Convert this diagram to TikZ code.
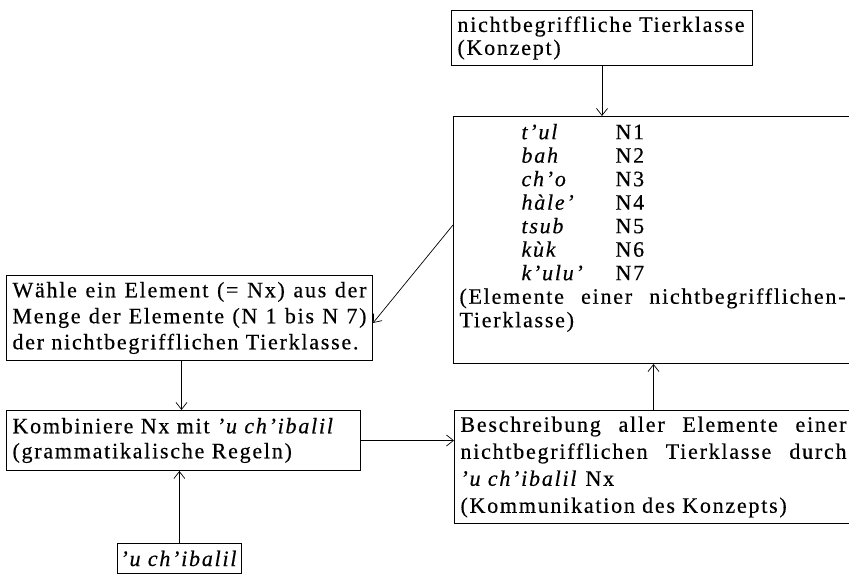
\documentclass[tikz,border=0pt]{standalone}
\usepackage{fontspec}
\setmainfont{Liberation Serif}[LetterSpace=8, FakeBold=0.4]
\usepackage{tikz}
\usetikzlibrary{arrows.meta,calc}

\tikzset{
    kasten/.style={draw, line width=1pt, anchor=north west, inner xsep=6pt, inner ysep=0pt,
        align=justify, font=\fontsize{22}{#1}\selectfont},
    kasten/.default=24,
    pfeil/.style={line width=0.7pt, -{Straight Barb[length=7pt,width=11pt]}}
}

\begin{document}
\begin{tikzpicture}[x=1pt,y=-1pt]
    \useasboundingbox (0,0) rectangle (849,575);
    \clip (0,0) rectangle (849,575);

    % Konzept
    \node[kasten=23, text width=289pt, minimum height=55pt] (konzept) at (451,10)
        {nichtbegriffliche Tierklasse\\(Konzept)};

    % Elemente der Tierklasse
    \node[kasten=23.5, text width=386pt, minimum height=247pt] (liste) at (453,116) {%
        \hspace*{62pt}\begin{tabular}{@{}p{94pt}@{}l@{}}
            \textit{t'ul}   & N1\\
            \textit{bah}    & N2\\
            \textit{ch'o}   & N3\\
            \textit{hàle'}  & N4\\
            \textit{tsub}   & N5\\
            \textit{kùk}    & N6\\
            \textit{k'ulu'} & N7
        \end{tabular}\\
        (Elemente einer nichtbegrifflichen-\linebreak Tierklasse)\rule[-30pt]{0pt}{1pt}};

    % Auswahl
    \node[kasten=26, text width=354pt, minimum height=85pt] (waehle) at (6,275)
        {Wähle ein Element (= Nx) aus der\linebreak Menge der Elemente (N 1 bis N 7)\linebreak der nichtbegrifflichen Tierklasse.};

    % Kombination
    \node[kasten=25, text width=342pt, minimum height=60pt, align=left] (kombi) at (6,410)
        {Kombiniere Nx mit \textit{'u ch'ibalil}\\(grammatikalische Regeln)};

    % Beschreibung
    \node[kasten=27, text width=386pt, minimum height=113pt] (beschr) at (454,410)
        {Beschreibung aller Elemente einer\linebreak nichtbegrifflichen Tierklasse durch\linebreak \textit{'u ch'ibalil} Nx\\(Kommunikation des Konzepts)};

    % 'u ch'ibalil
    \node[kasten, minimum width=105pt, minimum height=30pt, align=center, inner xsep=3pt] (ubalil) at (117,543)
        {\textit{'u ch'ibalil}};

    % Pfeile
    \draw[pfeil] (konzept.south) -- (konzept.south |- liste.north);
    \draw[pfeil] ([yshift=15pt]liste.west) -- ([yshift=-5pt]waehle.east);
    \draw[pfeil] ([xshift=-8pt]waehle.south) -- ([xshift=-8pt]waehle.south |- kombi.north);
    \draw[pfeil] (ubalil.north) -- (ubalil.north |- kombi.south);
    \draw[pfeil] (kombi.east) -- (kombi.east -| beschr.west);
    \draw[pfeil] (beschr.north) -- (beschr.north |- liste.south);
\end{tikzpicture}
\end{document}
